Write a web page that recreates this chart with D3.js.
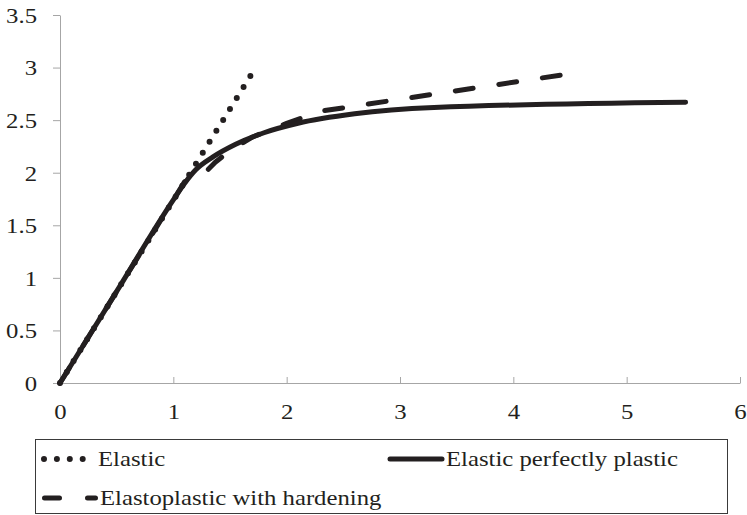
<!DOCTYPE html>
<html>
<head>
<meta charset="utf-8">
<script src="https://cdn.jsdelivr.net/npm/d3@7"></script>
<style>
  body { margin: 0; background: #fff; }
  svg text { font-family: "Liberation Serif", "DejaVu Serif", serif; }
</style>
</head>
<body>
<svg width="747" height="515"></svg>
<script>
// curves (x, y)
const elastic = [[0, 0], [1.68, 2.92]];
const perfectlyPlastic = [[0, 0], [0.5, 0.871], [1.0, 1.742], [1.1, 1.9], [1.2, 2.03], [1.35, 2.15],
  [1.55, 2.27], [1.8, 2.38], [2.1, 2.47], [2.6, 2.56], [3.3, 2.62], [5.52, 2.67]];
const hardening = [[0, 0], [1.1, 1.915], [1.2, 1.95], [1.27, 1.99], [1.37, 2.1], [1.5, 2.21],
  [1.7, 2.34], [2.0, 2.47], [2.3, 2.585], [4.43, 2.93]];
const xTicks = [0, 1, 2, 3, 4, 5, 6];
const yTicks = [0, 0.5, 1, 1.5, 2, 2.5, 3, 3.5];
const seriesNames = ["Elastic", "Elastic perfectly plastic", "Elastoplastic with hardening"];

const svg = d3.select("svg");
const ink = "#231f20";
const serif = "Liberation Serif, DejaVu Serif, serif";
const textScale = "scale(1.15,1)";

const x = d3.scaleLinear().domain([0, 6]).range([60, 740]);
const y = d3.scaleLinear().domain([0, 3.5]).range([383, 15]);

// x axis, ticks pointing up
const gx = svg.append("g")
  .attr("transform", `translate(0,${y(0)})`)
  .call(d3.axisBottom(x).tickValues(xTicks).tickSizeInner(-6).tickSizeOuter(0).tickFormat(d3.format("")));
gx.attr("font-family", serif);
gx.select(".domain").attr("stroke", "#a6a6a6");
gx.selectAll(".tick line").attr("stroke", "#a6a6a6");
gx.selectAll(".tick text")
  .attr("y", 36).attr("dy", 0)
  .attr("transform", textScale)
  .attr("fill", ink).style("font-size", "21.5px");

// y axis
const gy = svg.append("g")
  .attr("transform", `translate(${x(0)},0)`)
  .call(d3.axisLeft(y).tickValues(yTicks).tickSize(7).tickSizeOuter(0).tickFormat(d3.format("")));
gy.attr("font-family", serif);
gy.select(".domain").attr("stroke", "#a6a6a6");
gy.selectAll(".tick line").attr("stroke", "#a6a6a6");
gy.selectAll(".tick text")
  .attr("x", 0).attr("dy", "0.34em")
  .attr("transform", "translate(-23,0) " + textScale)
  .attr("fill", ink).style("font-size", "21.5px");

const line = d3.line().x(d => x(d[0])).y(d => y(d[1]));
const smooth = d3.line().x(d => x(d[0])).y(d => y(d[1])).curve(d3.curveMonotoneX);

svg.append("path").datum(hardening)
  .attr("d", line).attr("fill", "none").attr("stroke", ink)
  .attr("stroke-width", 5).attr("stroke-linecap", "round").attr("stroke-linejoin", "round")
  .attr("stroke-dasharray", "18,26");

svg.append("path").datum(elastic)
  .attr("d", line).attr("fill", "none").attr("stroke", ink)
  .attr("stroke-width", 6).attr("stroke-linecap", "round")
  .attr("stroke-dasharray", "0,12.9");

svg.append("path").datum(perfectlyPlastic)
  .attr("d", smooth).attr("fill", "none").attr("stroke", ink)
  .attr("stroke-width", 5).attr("stroke-linecap", "round");

// legend
const lg = svg.append("g").attr("font-family", serif);
lg.append("rect").attr("x", 35.5).attr("y", 439.5).attr("width", 692).attr("height", 74)
  .attr("fill", "none").attr("stroke", "#3a3a3a").attr("stroke-width", 1);

const items = [
  {name: seriesNames[0], x1: 44, x2: 83, y: 459, tx: 98, dash: "0,12.9", w: 6},
  {name: seriesNames[1], x1: 390, x2: 442, y: 459, tx: 446, dash: null, w: 5},
  {name: seriesNames[2], x1: 44.5, x2: 95.5, y: 498, tx: 100, dash: "15,28", w: 5}
];
items.forEach(it => {
  lg.append("line").attr("x1", it.x1).attr("x2", it.x2).attr("y1", it.y).attr("y2", it.y)
    .attr("stroke", ink).attr("stroke-width", it.w).attr("stroke-linecap", "round")
    .attr("stroke-dasharray", it.dash);
  lg.append("text")
    .attr("transform", `translate(${it.tx},${it.y + 7}) ` + textScale)
    .attr("fill", ink).style("font-size", "21.5px")
    .text(it.name);
});
</script>
</body>
</html>
